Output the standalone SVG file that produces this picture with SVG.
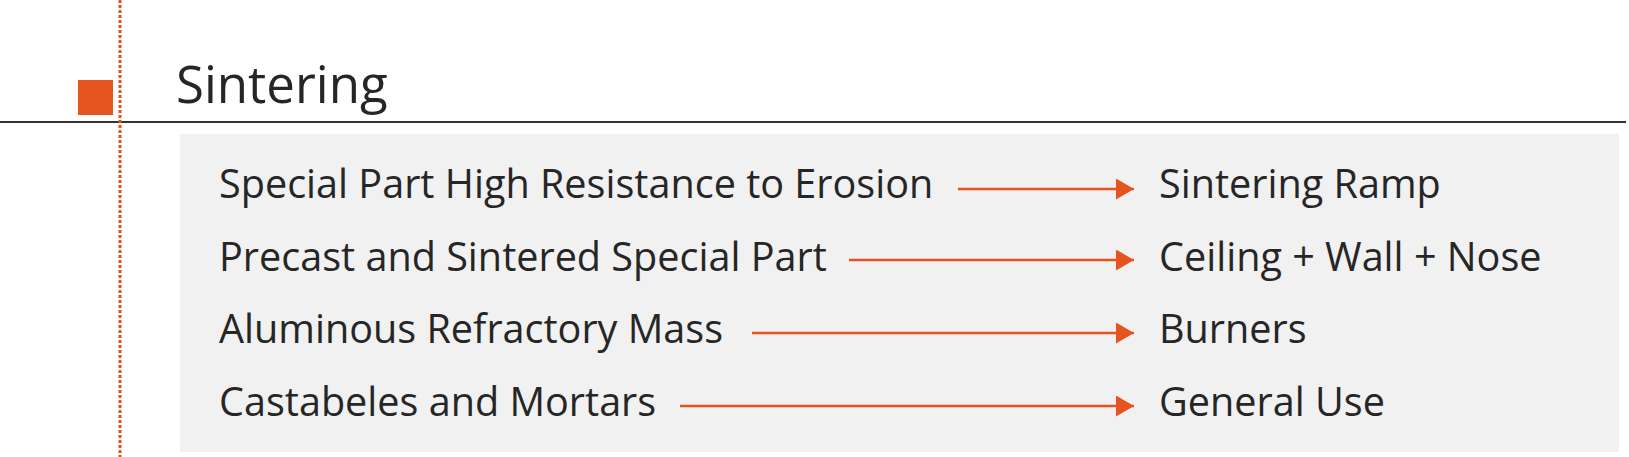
<svg xmlns="http://www.w3.org/2000/svg" width="1629" height="457" viewBox="0 0 1629 457">
<defs>
<style>
.t{font-family:"Open Sans","Noto Sans","Liberation Sans",sans-serif;fill:#262626}
.item{font-size:39.6px}
.title{font-size:51px}
.conn{stroke:#E5531F;stroke-width:2.5;fill:none}
</style>
<marker id="ah" viewBox="0 0 18 21" refX="18" refY="10.5" markerWidth="18" markerHeight="21" markerUnits="userSpaceOnUse" orient="auto">
<path d="M0,0 L18,10.5 L0,21 Z" fill="#E5531F"/>
</marker>
</defs>
<rect width="1629" height="457" fill="#FFFFFF"/>
<rect x="180" y="134" width="1439" height="318" fill="#F1F1F1"/>
<line x1="0" y1="122" x2="1626" y2="122" stroke="#333333" stroke-width="1.8"/>
<line x1="120" y1="0" x2="120" y2="457" stroke="#E5531F" stroke-width="3" stroke-dasharray="3 2"/>
<g id="title">
<rect x="78" y="80" width="35" height="35" fill="#E5531F"/>
<text class="t title" x="176" y="103">Sintering</text>
</g>
<g id="connectors">
<line class="conn" x1="958" y1="189" x2="1134" y2="189" marker-end="url(#ah)"/>
<line class="conn" x1="849" y1="260" x2="1134" y2="260" marker-end="url(#ah)"/>
<line class="conn" x1="752" y1="333" x2="1134" y2="333" marker-end="url(#ah)"/>
<line class="conn" x1="680" y1="406" x2="1134" y2="406" marker-end="url(#ah)"/>
</g>
<g id="src1"><text class="t item" x="219" y="198">Special Part High Resistance to Erosion</text></g>
<g id="src2"><text class="t item" x="219" y="271">Precast and Sintered Special Part</text></g>
<g id="src3"><text class="t item" x="219" y="343">Aluminous Refractory Mass</text></g>
<g id="src4"><text class="t item" x="219" y="416">Castabeles and Mortars</text></g>
<g id="dst1"><text class="t item" x="1159" y="198">Sintering Ramp</text></g>
<g id="dst2"><text class="t item" x="1159" y="271">Ceiling + Wall + Nose</text></g>
<g id="dst3"><text class="t item" x="1159" y="343">Burners</text></g>
<g id="dst4"><text class="t item" x="1159" y="416">General Use</text></g>
</svg>
